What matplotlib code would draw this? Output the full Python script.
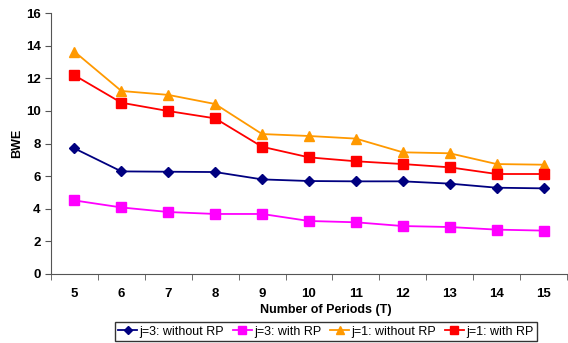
import matplotlib
matplotlib.use("Agg")
import matplotlib.pyplot as plt
import numpy as np

periods = [5, 6, 7, 8, 9, 10, 11, 12, 13, 14, 15]
j3_without = [7.70, 6.29, 6.27, 6.25, 5.80, 5.70, 5.68, 5.68, 5.54, 5.29, 5.25]
j3_with = [4.51, 4.08, 3.80, 3.68, 3.68, 3.25, 3.17, 2.94, 2.88, 2.72, 2.66]
j1_without = [13.63, 11.22, 10.98, 10.42, 8.58, 8.46, 8.30, 7.46, 7.40, 6.74, 6.70]
j1_with = [12.18, 10.50, 9.99, 9.54, 7.80, 7.15, 6.91, 6.74, 6.54, 6.13, 6.13]
labels = ["j=3: without RP", "j=3: with RP", "j=1: without RP", "j=1: with RP"]

plt.rcParams['font.family'] = ['Liberation Sans', 'DejaVu Sans']

fig = plt.figure(figsize=(5.68, 3.43), dpi=100)
W, H = 568, 343
ax = fig.add_axes([51 / W, 1 - 274 / H, (567 - 51) / W, (274 - 13) / H])

series = [
    (j3_without, '#000080', 'D', 5),
    (j3_with, '#FF00FF', 's', 7),
    (j1_without, '#FF9900', '^', 7),
    (j1_with, '#FF0000', 's', 7),
]
handles = []
for (vals, c, m, ms), lab in zip(series, labels):
    h, = ax.plot(periods, vals, color=c, marker=m, markersize=ms, linewidth=1.3,
                 markeredgecolor=c, label=lab)
    handles.append(h)

ax.set_xlim(4.5, 15.5)
ax.set_ylim(0, 16)
ax.set_yticks(np.arange(0, 17, 2))
ax.set_xticks(periods)
ax.set_xticks(np.arange(4.5, 15.6, 1), minor=True)
ax.tick_params(axis='x', which='major', length=0, pad=10)
ax.tick_params(axis='x', which='minor', length=4, direction='out', color='#555555')
ax.tick_params(axis='y', length=4, direction='out', color='#555555')
for lbl in ax.get_xticklabels() + ax.get_yticklabels():
    lbl.set_fontweight('bold')
    lbl.set_fontsize(9.5)
ax.spines['top'].set_visible(False)
ax.spines['right'].set_visible(False)
ax.spines['left'].set_color('#555555')
ax.spines['bottom'].set_color('#555555')

ax.set_xlabel("Number of Periods (T)", fontweight='bold', fontsize=9)
ax.xaxis.set_label_coords((326 - 51) / (567 - 51), -(304 - 274) / (274 - 13))
ax.set_ylabel("BWE", fontweight='bold', fontsize=9)
ax.yaxis.set_label_coords(-(51 - 23) / (567 - 51), 0.5)

leg = fig.legend(handles=handles, labels=labels, ncol=4, loc='center',
                 bbox_to_anchor=(326 / W, 1 - 331.5 / H), frameon=True, fancybox=False,
                 edgecolor='black', fontsize=9, handlelength=1.5, handletextpad=0.2,
                 columnspacing=0.7, borderpad=0.25, markerscale=0.8)
leg.get_frame().set_linewidth(1.0)

fig.savefig("out.png", dpi=100)
